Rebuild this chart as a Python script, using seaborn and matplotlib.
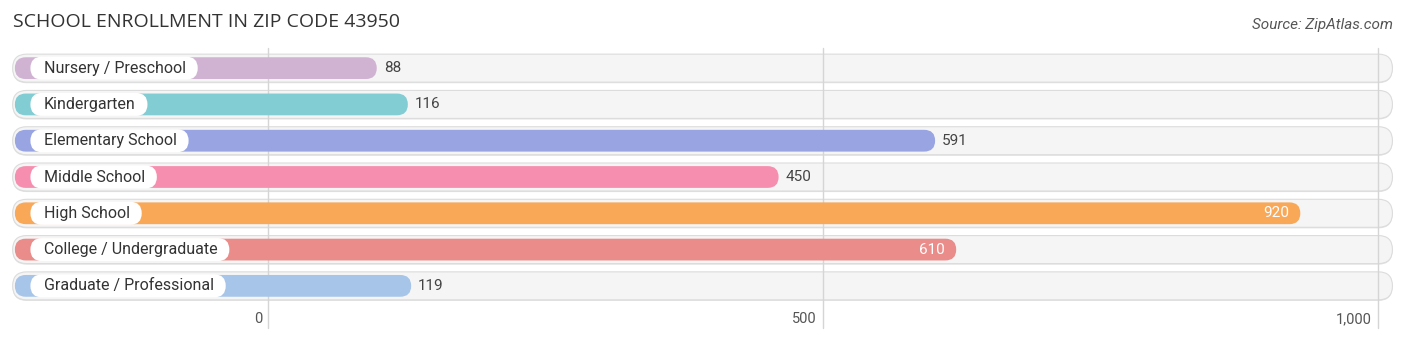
import matplotlib
matplotlib.use("Agg")
import matplotlib.pyplot as plt
import seaborn as sns
import pandas as pd
from matplotlib.patches import FancyBboxPatch
from matplotlib.transforms import ScaledTranslation

categories = ["Nursery / Preschool", "Kindergarten", "Elementary School", "Middle School",
              "High School", "College / Undergraduate", "Graduate / Professional"]
values = [88, 116, 591, 450, 920, 610, 119]
colors = ["#D0B3D3", "#82CCD3", "#98A5E2", "#F68EB0", "#F9A858", "#E98C8A", "#A6C5E9"]
tick_values = [0, 500, 1000]
tick_labels = ["0", "500", "1,000"]
title = "SCHOOL ENROLLMENT IN ZIP CODE 43950"
source = "Source: ZipAtlas.com"

sns.set_theme(style="white")
plt.rcParams["font.family"] = ["Roboto", "DejaVu Sans"]

W, H = 1406, 342
fig = plt.figure(figsize=(W / 100, H / 100), dpi=100)
ax_bottom_px, ax_h_px = 304, 254
ax = fig.add_axes([0, (H - ax_bottom_px) / H, 1, ax_h_px / H])

xmin, xmax = -241.4, 1025.2
ax.set_xlim(xmin, xmax)
ax.set_ylim(len(categories) - 0.5, -0.5)
px_x = W / (xmax - xmin)
px_y = ax_h_px / len(categories)
aspect = px_x / px_y

df = pd.DataFrame({"category": categories, "value": values})
sns.barplot(data=df, x="value", y="category", hue="category", palette=colors,
            orient="h", ax=ax, legend=False, width=0.6, saturation=1)

x_start = -228
cap = 10
bars = list(ax.patches)
for p in bars:
    y0, h = p.get_y(), p.get_height()
    idx = int(round(y0 + h / 2))
    fc = p.get_facecolor()
    p.remove()
    v = values[idx]
    r = (h / 2) / aspect
    ax.add_patch(FancyBboxPatch((x_start, y0), v + cap - x_start, h,
                                boxstyle=f"round,pad=0,rounding_size={r}",
                                mutation_aspect=aspect, fc=fc, ec="none", zorder=3))

# background pills
bg_h = 28 / px_y
for i in range(len(categories)):
    r = (bg_h / 2) / aspect
    ax.add_patch(FancyBboxPatch((-230, i - bg_h / 2 + 0.03), 1243, bg_h,
                                boxstyle=f"round,pad=0,rounding_size={r}",
                                mutation_aspect=aspect, fc="#E2E2E2", ec="none", zorder=0))
    ax.add_patch(FancyBboxPatch((-230, i - bg_h / 2), 1243, bg_h,
                                boxstyle=f"round,pad=0,rounding_size={r}",
                                mutation_aspect=aspect, fc="#F5F5F5", ec="#DCDCDC", lw=0.8, zorder=1))

# gridlines
for t in tick_values:
    ax.plot([t, t], [-0.55, 7.15], color="#D5D5D5", lw=1, zorder=2, clip_on=False)

# category labels with white pills
fig.canvas.draw()
renderer = fig.canvas.get_renderer()
inv = ax.transData.inverted()
for i, cat in enumerate(categories):
    t = ax.text(-202, i, cat, va="center", ha="left", fontsize=11.5, color="#333333", zorder=6)
    bb = t.get_window_extent(renderer=renderer)
    x1 = inv.transform((bb.x1, 0))[0]
    ph = 23 / px_y
    r = (ph / 2) / aspect
    ax.add_patch(FancyBboxPatch((-214, i - ph / 2), (x1 + 12 / px_x) - (-214), ph,
                                boxstyle=f"round,pad=0,rounding_size={r}",
                                mutation_aspect=aspect, fc="white", ec="none", zorder=5))

# value labels
for i, v in enumerate(values):
    end = v + cap
    if v > 600:
        ax.text(end - 11 / px_x, i, f"{v:,}", va="center", ha="right", fontsize=11,
                color="white", zorder=6)
    else:
        ax.text(end + 7 / px_x, i, f"{v:,}", va="center", ha="left", fontsize=11,
                color="#444444", zorder=6)

ax.set_xticks(tick_values)
ax.set_xticklabels(tick_labels)
ax.tick_params(axis="x", length=0, pad=6, labelsize=10.5, labelcolor="#555555")
for lab in ax.get_xticklabels():
    lab.set_ha("right")
    lab.set_transform(lab.get_transform() + ScaledTranslation(-6 / 100, 0, fig.dpi_scale_trans))
ax.set_yticks([])
ax.set_xlabel("")
ax.set_ylabel("")
for s in ax.spines.values():
    s.set_visible(False)
ax.set_facecolor("none")

fig.text(13 / W, 1 - 22 / H, title, ha="left", va="center", fontsize=14, color="#333333",
         family=["Open Sans", "DejaVu Sans"])
fig.text(1393 / W, 1 - 25 / H, source, ha="right", va="center", fontsize=11, color="#555555",
         style="italic")

fig.savefig("out.png", dpi=100, facecolor="white")
